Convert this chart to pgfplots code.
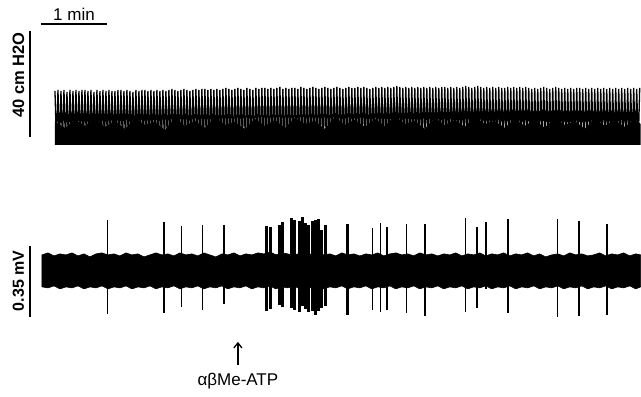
\documentclass[border=0pt]{standalone}
\usepackage{pgfplots}
\pgfplotsset{compat=1.18}
\usepackage{fontspec}
\setmainfont{Liberation Sans}
\usetikzlibrary{arrows.meta}
\begin{document}
\begin{tikzpicture}
\begin{axis}[scale only axis, width=641pt, height=397pt,
  xmin=0, xmax=641, ymin=0, ymax=397, y dir=reverse,
  hide axis, clip=false]
\path (axis cs:0,0) rectangle (axis cs:641,397);
% top trace: dark lower part
\addplot[fill=black, draw=none] coordinates {(55,145)(55,122)(65,128)(75,120)(85,126)(95,118)(105,127)(115,121)(125,129)(135,119)(145,125)(155,122)(165,130)(175,118)(185,126)(195,121)(205,128)(215,117)(225,125)(235,122)(245,129)(255,119)(265,126)(275,120)(285,128)(295,118)(305,124)(315,121)(325,129)(335,117)(345,125)(355,120)(365,127)(375,119)(385,126)(395,116)(405,124)(415,121)(425,129)(435,118)(445,125)(455,120)(465,127)(475,117)(485,124)(495,121)(505,128)(515,119)(525,126)(535,120)(545,128)(555,118)(565,125)(575,121)(585,129)(595,118)(605,126)(615,120)(625,127)(635,119)(641,124)(641,145)} --cycle;
% top trace: pressure oscillation
\addplot[black, line width=1.3pt] table[header=false, row sep=\\, x expr=55+1.5*\coordindex, y index=0] {
91\\144\\90\\145\\91\\143\\90\\144\\92\\145\\90\\144\\91\\145\\90\\143\\91\\144\\90\\145\\
90\\144\\91\\145\\90\\144\\92\\143\\90\\145\\91\\144\\90\\145\\91\\144\\90\\143\\91\\145\\
91\\144\\90\\145\\90\\144\\91\\143\\90\\145\\91\\144\\92\\145\\90\\144\\91\\143\\90\\145\\
90\\144\\91\\145\\90\\143\\91\\144\\90\\145\\91\\144\\90\\143\\91\\145\\90\\144\\89\\145\\
90\\144\\91\\143\\90\\145\\89\\144\\90\\145\\91\\144\\90\\143\\89\\145\\90\\144\\89\\145\\
89\\144\\90\\145\\89\\143\\90\\144\\89\\145\\90\\144\\89\\145\\88\\144\\89\\143\\90\\145\\
89\\144\\88\\145\\89\\143\\90\\144\\88\\145\\89\\144\\90\\145\\88\\143\\89\\144\\88\\145\\
88\\144\\89\\145\\88\\143\\89\\144\\88\\145\\87\\144\\89\\145\\88\\143\\89\\144\\88\\145\\
88\\144\\89\\145\\87\\144\\88\\143\\89\\145\\88\\144\\87\\145\\88\\144\\89\\143\\88\\145\\
87\\144\\88\\145\\89\\144\\88\\143\\87\\145\\88\\144\\89\\145\\88\\144\\87\\143\\88\\145\\
88\\144\\87\\145\\88\\143\\87\\144\\88\\145\\89\\144\\88\\145\\87\\143\\88\\144\\87\\145\\
88\\144\\87\\145\\88\\144\\87\\143\\86\\145\\87\\144\\88\\145\\87\\144\\88\\143\\87\\145\\
88\\144\\87\\145\\88\\144\\87\\143\\88\\145\\87\\144\\88\\145\\87\\144\\88\\143\\87\\145\\
87\\144\\88\\145\\87\\143\\88\\144\\87\\145\\88\\144\\87\\145\\86\\144\\87\\143\\88\\145\\
87\\144\\86\\145\\87\\143\\88\\144\\87\\145\\88\\144\\87\\145\\88\\144\\87\\143\\88\\145\\
88\\144\\87\\145\\88\\143\\87\\144\\88\\145\\87\\144\\88\\145\\87\\143\\88\\144\\89\\145\\
88\\144\\89\\145\\88\\143\\87\\144\\88\\145\\89\\144\\88\\145\\87\\144\\88\\143\\89\\145\\
88\\144\\89\\145\\88\\144\\89\\143\\88\\145\\88\\144\\89\\145\\88\\144\\89\\143\\88\\145\\
89\\144\\88\\145\\89\\143\\88\\144\\89\\145\\88\\144\\89\\145\\88\\144\\89\\143\\88\\145\\
89\\144\\88\\145\\89\\144\\88\\143\\89\\145\\88\\
};
% bottom trace: noise band
\addplot[fill=black, draw=black, line width=0.6pt] coordinates {
(42,255)(48,253)(54,256)(60,254)(66,255)(72,253)(78,256)(84,254)(90,257)(96,254)(102,253)(108,255)(114,254)(120,256)(126,253)(132,255)(138,254)(144,257)(150,255)(156,253)(162,255)(168,254)(174,256)(180,253)(186,255)(192,254)(198,256)(204,253)(210,255)(216,257)(222,254)(228,255)(234,253)(240,256)(246,254)(252,255)(258,253)(264,254)(270,252)(276,255)(282,253)(288,254)(294,256)(300,253)(306,255)(312,254)(318,253)(324,255)(330,254)(336,256)(342,253)(348,255)(354,254)(360,256)(366,254)(372,255)(378,253)(384,256)(390,254)(396,253)(402,255)(408,254)(414,256)(420,253)(426,255)(432,254)(438,256)(444,254)(450,255)(456,253)(462,256)(468,254)(474,255)(480,253)(486,256)(492,254)(498,255)(504,253)(510,256)(516,254)(522,255)(528,253)(534,256)(540,254)(546,257)(552,255)(558,254)(564,256)(570,253)(576,255)(582,254)(588,256)(594,255)(600,253)(606,256)(612,254)(618,255)(624,253)(630,256)(636,254)(641,255)
(641,287)(636,289)(630,286)(624,288)(618,287)(612,289)(606,286)(600,288)(594,287)(588,289)(582,286)(576,288)(570,287)(564,289)(558,286)(552,288)(546,287)(540,289)(534,286)(528,288)(522,287)(516,289)(510,286)(504,288)(498,287)(492,289)(486,286)(480,288)(474,287)(468,289)(462,286)(456,288)(450,287)(444,289)(438,286)(432,288)(426,287)(420,289)(414,286)(408,288)(402,287)(396,289)(390,286)(384,288)(378,287)(372,289)(366,286)(360,288)(354,287)(348,289)(342,286)(336,288)(330,287)(324,289)(318,286)(312,288)(306,287)(300,289)(294,286)(288,288)(282,287)(276,289)(270,286)(264,288)(258,287)(252,289)(246,286)(240,288)(234,287)(228,289)(222,286)(216,288)(210,287)(204,289)(198,286)(192,288)(186,287)(180,289)(174,286)(168,288)(162,287)(156,289)(150,286)(144,288)(138,287)(132,289)(126,286)(120,288)(114,287)(108,289)(102,286)(96,288)(90,287)(84,289)(78,286)(72,288)(66,287)(60,289)(54,286)(48,288)(42,287)
} --cycle;
% single spikes
\addplot[black, line width=1.8pt, unbounded coords=jump] coordinates {
(107.5,220)(107.5,314)(107.5,nan)
(164,222)(164,313)(164,nan)
(181.5,226)(181.5,307)(181.5,nan)
(202.5,225)(202.5,310)(202.5,nan)
(224,225)(224,304)(224,nan)
(372.7,228)(372.7,310)(372.7,nan)
(380.7,223)(380.7,312)(380.7,nan)
(387.3,227)(387.3,310)(387.3,nan)
(406.7,224)(406.7,313)(406.7,nan)
(425,224)(425,316)(425,nan)
(465.7,218)(465.7,312)(465.7,nan)
(477,227)(477,308)(477,nan)
(486.3,222)(486.3,289)(486.3,nan)
(508.3,219)(508.3,313)(508.3,nan)
(557.7,219)(557.7,317)(557.7,nan)
(579,221)(579,316)(579,nan)
(607.3,224)(607.3,315)
};
% burst spikes
\addplot[black, line width=3pt, unbounded coords=jump] coordinates {
(267,226)(267,311)(267,nan)
(270.5,227)(270.5,309)(270.5,nan)
(280,225)(280,305)(280,nan)
(283,222)(283,307)(283,nan)
(291.5,218)(291.5,308)(291.5,nan)
(294.5,220)(294.5,310)(294.5,nan)
(299.5,221)(299.5,312)(299.5,nan)
(302.5,217)(302.5,306)(302.5,nan)
(306,223)(306,309)(306,nan)
(309,225)(309,312)(309,nan)
(312.5,221)(312.5,311)(312.5,nan)
(315.5,220)(315.5,315)(315.5,nan)
(319,219)(319,311)(319,nan)
(322,230)(322,308)(322,nan)
(326,225)(326,306)(326,nan)
(347.5,224)(347.5,315)
};
% scale bars and annotations
\draw[line width=1.6pt] (axis cs:41,24) -- (axis cs:107,24);
\node[anchor=base, font=\fontsize{17}{20}\selectfont, inner sep=0pt] at (axis cs:74,21) {1 min};
\draw[line width=2pt] (axis cs:30,31) -- (axis cs:30,137);
\node[rotate=90, font=\fontsize{16.5}{20}\selectfont\bfseries, inner sep=0pt] at (axis cs:18.5,75) {40 cm H2O};
\draw[line width=2pt] (axis cs:30,246) -- (axis cs:30,317);
\node[rotate=90, font=\fontsize{16}{20}\selectfont\bfseries, inner sep=0pt] at (axis cs:18.5,281) {0.35 mV};
\draw[line width=1.3pt, -{Straight Barb[length=5pt,width=8pt]}] (axis cs:238,365) -- (axis cs:238,342);
\node[anchor=base, font=\fontsize{17}{20}\selectfont, inner sep=0pt] at (axis cs:238,386) {αβMe-ATP};
\end{axis}
\end{tikzpicture}
\end{document}
